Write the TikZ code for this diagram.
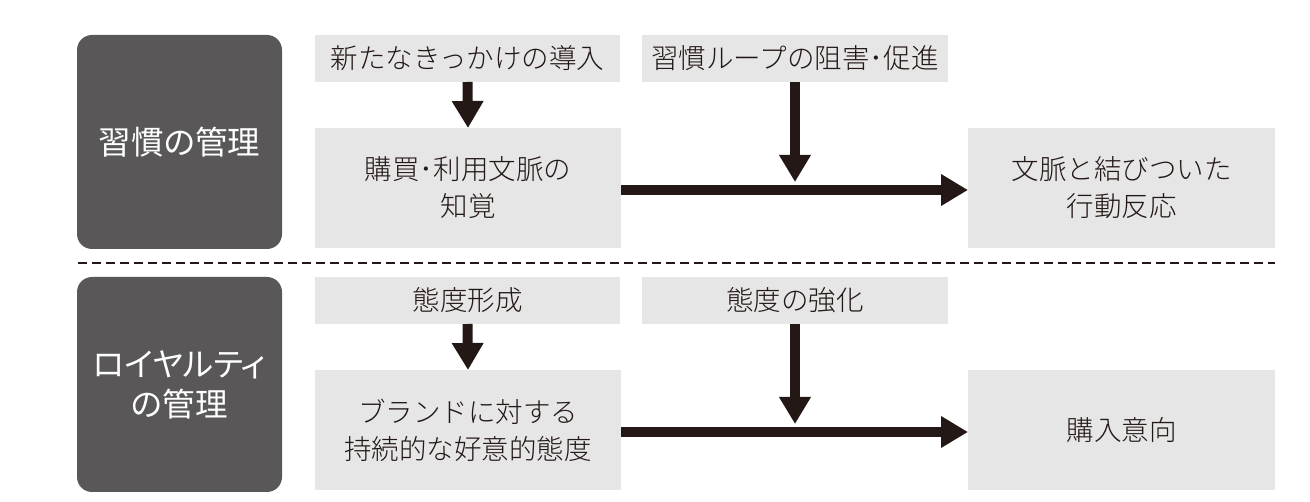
\documentclass[tikz,border=0pt]{standalone}
\usepackage{fontspec}
\newfontfamily\jpp[RawFeature=+palt]{Noto Sans CJK JP}
\IfFontExistsTF{Noto Sans CJK JP Light}{%
  \setmainfont{Noto Sans CJK JP Light}}{%
  \setmainfont{Noto Sans CJK JP}}
\usetikzlibrary{arrows.meta}
\definecolor{darkbox}{HTML}{595757}
\definecolor{lightbox}{HTML}{E6E6E6}
\definecolor{ink}{HTML}{231815}
\begin{document}
\begin{tikzpicture}[x=1pt,y=-1pt,
  headbox/.style={fill=darkbox,draw=none,rounded corners=15pt,text=white,
    inner sep=0pt,outer sep=0pt,align=center,
    font=\jpp\fontsize{32.5}{40}\selectfont,minimum width=205pt},
  itembox/.style={fill=lightbox,draw=none,text=ink,inner sep=0pt,outer sep=0pt,
    align=center,font=\fontsize{27.5}{37}\selectfont},
  arr/.style={draw=ink,line width=10pt,-{Triangle[width=30pt,length=27pt]}}]
\useasboundingbox (0,0) rectangle (1310,502);
% header boxes
\node[headbox,minimum height=214pt] (h1) at (179.5,142) {習慣の管理};
\node[headbox,minimum height=215pt] (h2) at (179.5,384.5) {ロイヤルティ\\の管理};
% top section
\node[itembox,minimum width=305pt,minimum height=47pt] (t1) at (467.5,58.5) {新たなきっかけの導入};
\node[itembox,minimum width=306pt,minimum height=47pt] (t2) at (795,58.5) {習慣ループの阻害･促進};
\node[itembox,minimum width=306pt,minimum height=120pt] (m1) at (468,188) {購買･利用文脈の\\知覚};
\node[itembox,minimum width=307pt,minimum height=120pt] (r1) at (1121.5,188) {文脈と結びついた\\行動反応};
% bottom section
\node[itembox,minimum width=305pt,minimum height=47pt] (b1) at (467.5,300.5) {態度形成};
\node[itembox,minimum width=306pt,minimum height=47pt] (b2) at (795,300.5) {態度の強化};
\node[itembox,minimum width=306pt,minimum height=120pt] (m2) at (468,430) {ブランドに対する\\持続的な好意的態度};
\node[itembox,minimum width=307pt,minimum height=120pt] (r2) at (1121.5,430) {購入意向};
% divider
\coordinate (dl) at (78,263);
\coordinate (dr) at (1275,263);
\draw[ink,line width=2pt,dash pattern=on 9pt off 5pt] (dl) -- (dr);
% arrows top
\coordinate (j1) at (795,182);
\coordinate (j2) at (795,424);
\draw[arr] (t1.south) -- (m1.north);
\draw[arr] ([yshift=-2pt]m1.east) -- ([yshift=-2pt]r1.west);
\draw[arr] (t2.south) -- (j1);
% arrows bottom
\draw[arr] (b1.south) -- (m2.north);
\draw[arr] ([yshift=-2pt]m2.east) -- ([yshift=-2pt]r2.west);
\draw[arr] (b2.south) -- (j2);
\end{tikzpicture}
\end{document}
